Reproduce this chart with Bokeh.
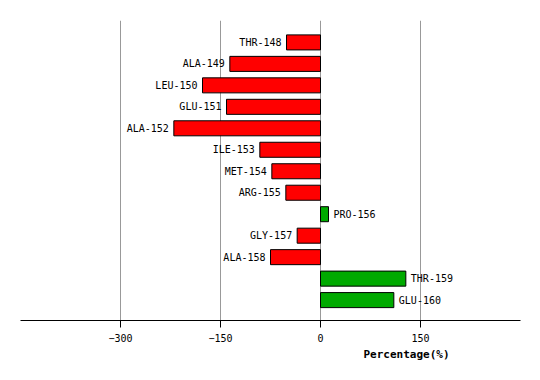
from bokeh.plotting import figure
from bokeh.models import Range1d, FixedTicker, Title, ColumnDataSource
from bokeh.core.properties import value
from bokeh.embed import file_html
from bokeh.resources import INLINE

residues = ["THR-148", "ALA-149", "LEU-150", "GLU-151", "ALA-152", "ILE-153", "MET-154",
            "ARG-155", "PRO-156", "GLY-157", "ALA-158", "THR-159", "GLU-160"]
percent = [-51, -136, -177, -141, -220, -91, -73, -52, 12, -35, -75, 128, 110]
x_ticks = [-300, -150, 0, 150]

idx = list(range(len(residues)))
colors = ["#00AA00" if v > 0 else "#FF0000" for v in percent]
aligns = ["left" if v > 0 else "right" for v in percent]
offs = [5 if v > 0 else -5 for v in percent]
src = ColumnDataSource(dict(y=idx, v=percent, name=residues, c=colors, a=aligns, o=offs))

p = figure(width=530, height=370, output_backend="svg", toolbar_location=None,
           x_range=Range1d(-450, 300), y_range=Range1d(12.95, -1.02),
           min_border_left=20, min_border_right=10, min_border_top=20, min_border_bottom=50)
p.outline_line_color = None
p.yaxis.visible = False
p.ygrid.visible = False
p.xgrid.ticker = FixedTicker(ticks=x_ticks)
p.xgrid.grid_line_color = "#999999"
p.xgrid.grid_line_width = 1
p.xaxis.ticker = FixedTicker(ticks=x_ticks)
p.xaxis.axis_line_color = "black"
p.xaxis.major_tick_line_color = "black"
p.xaxis.major_tick_out = 7
p.xaxis.major_tick_in = 0
p.xaxis.minor_tick_line_color = None
p.xaxis.major_label_standoff = 6
p.xaxis.major_label_text_font = "DejaVu Sans Mono"
p.xaxis.major_label_text_font_size = "10px"
p.xaxis.major_label_text_color = "black"

p.hbar(y="y", left=0, right="v", height=0.7, fill_color="c", line_color="black",
       line_width=1, source=src)
p.text(x="v", y="y", text="name", text_align="a", x_offset="o", text_baseline="middle",
       text_font=value("DejaVu Sans Mono"), text_font_size="10px", text_color="black",
       source=src)

p.add_layout(Title(text="Percentage(%)", align="left", offset=343,
                   text_font="DejaVu Sans Mono", text_font_size="11px",
                   text_font_style="bold", text_color="black", standoff=2), "below")

open("out.html", "w").write(file_html(p, INLINE))
